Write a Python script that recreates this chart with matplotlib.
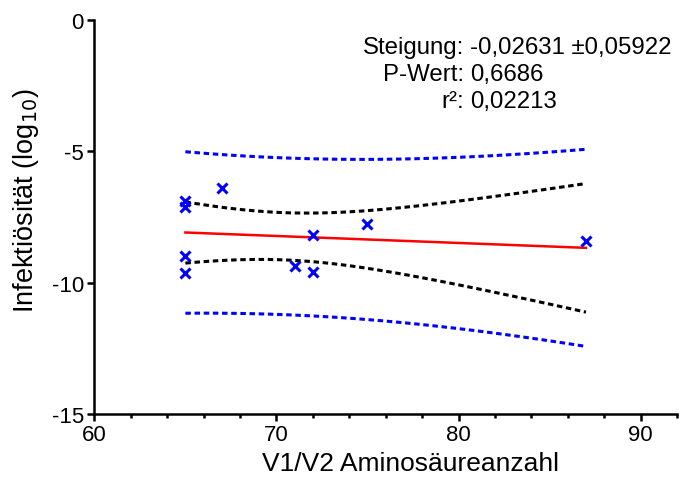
import numpy as np
import matplotlib
matplotlib.use("Agg")
import matplotlib.pyplot as plt
from matplotlib.ticker import MultipleLocator

plt.rcParams['font.family'] = ['Liberation Sans', 'DejaVu Sans']
plt.rcParams['axes.unicode_minus'] = False

# data
aa_count = np.array([65, 65, 67, 65, 65, 71, 72, 72, 75, 87])
infect = np.array([-6.88, -7.11, -6.40, -9.00, -9.65, -9.36, -9.61, -8.19, -7.77, -8.41])

stat_labels = ["Steigung:", "P-Wert:", "r\u00b2:"]
stat_values = ["-0,02631 \u00b10,05922", "0,6686", "0,02213"]

# linear regression with 95% confidence / prediction bands
n = len(aa_count)
xm = aa_count.mean()
sxx = ((aa_count - xm) ** 2).sum()
slope = ((aa_count - xm) * (infect - infect.mean())).sum() / sxx
icpt = infect.mean() - slope * xm
resid = infect - (icpt + slope * aa_count)
s = np.sqrt((resid ** 2).sum() / (n - 2))
t = 2.306  # t(0.975, df=8)

xf = np.linspace(aa_count.min(), aa_count.max(), 100)
yf = icpt + slope * xf
ci = t * s * np.sqrt(1 / n + (xf - xm) ** 2 / sxx)
pi = t * s * np.sqrt(1 + 1 / n + (xf - xm) ** 2 / sxx)

fig = plt.figure(figsize=(6.9, 4.85), dpi=100)
ax = fig.add_axes([0.1367, 0.1443, 0.8445, 0.8130])

dots = (0, (1.8, 1.2))
ax.plot(xf, yf + pi, color="#0000ff", lw=2.2, ls=dots)
ax.plot(xf, yf - pi, color="#0000ff", lw=2.2, ls=dots)
ax.plot(xf, yf + ci, color="black", lw=2.2, ls=dots)
ax.plot(xf, yf - ci, color="black", lw=2.2, ls=dots)
ax.plot(xf, yf, color="#ff0000", lw=1.8)
ax.plot(aa_count, infect, "x", color="#0000ff", ms=7, mew=2.2, ls="none")

ax.set_xlim(60, 92)
ax.set_ylim(-15, 0)
ax.xaxis.set_major_locator(MultipleLocator(10))
ax.xaxis.set_minor_locator(MultipleLocator(2))
ax.yaxis.set_major_locator(MultipleLocator(5))
for sp in ["top", "right"]:
    ax.spines[sp].set_visible(False)
for sp in ["left", "bottom"]:
    ax.spines[sp].set_linewidth(1.8)
ax.tick_params(which="major", length=5, width=1.8, labelsize=16, pad=2.5)
ax.tick_params(which="minor", length=3, width=1.8)

ax.set_xlabel("V1/V2 Aminosäureanzahl", fontsize=19)
ax.set_ylabel("Infektiösität (log$_{10}$)", fontsize=19.5)
ax.xaxis.set_label_coords(0.542, -0.095)
ax.yaxis.set_label_coords(-0.092, 0.543)

for i, (lab, val) in enumerate(zip(stat_labels, stat_values)):
    yy = 0.8887 - i * 0.0557
    fig.text(0.6725, yy, lab, ha="right", va="baseline", fontsize=17.3)
    fig.text(0.681, yy, val, ha="left", va="baseline", fontsize=17.3)

fig.savefig("out.png", dpi=100)
